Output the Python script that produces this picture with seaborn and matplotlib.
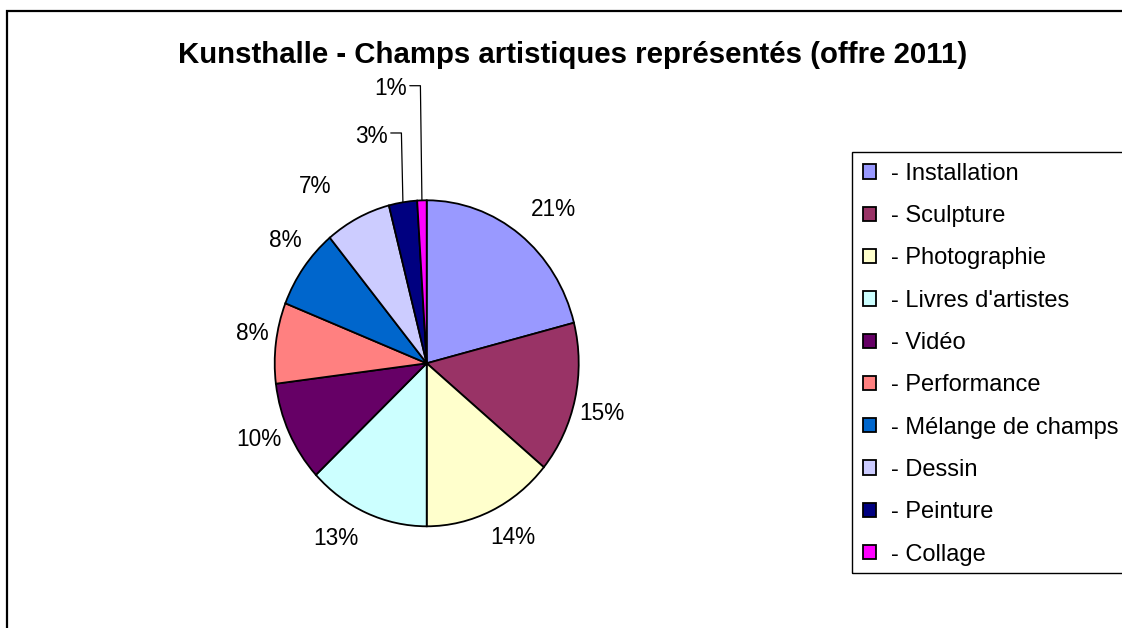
import numpy as np
import matplotlib
matplotlib.use('Agg')
import matplotlib.pyplot as plt
import seaborn as sns
from matplotlib.patches import Rectangle

sns.set_style('white')
plt.rcParams['font.family'] = ['Liberation Sans', 'DejaVu Sans']
plt.rcParams['text.color'] = 'black'

# Data
categories = ['Installation', 'Sculpture', 'Photographie', "Livres d'artistes", 'Vidéo',
              'Performance', 'Mélange de champs', 'Dessin', 'Peinture', 'Collage']
shares = [21, 15, 14, 13, 10, 8, 8, 7, 3, 1]
colors = ['#9999FF', '#993366', '#FFFFCC', '#CCFFFF', '#660066',
          '#FF8080', '#0066CC', '#CCCCFF', '#000080', '#FF00FF']

# label layout (angle nudge in degrees, radial distance) for the big slices
label_nudge = [3.7, 2.4, -2.8, 5.6, 2.2, 1.8, 3.0, -7.0]
label_dist = [1.256, 1.19, 1.21, 1.23, 1.20, 1.16, 1.2, 1.31]
# small slices get leader lines; label height above centre
leader_height = [1.393, 1.683]

W, H = 1122, 628
fig = plt.figure(figsize=(W / 100, H / 100), dpi=100)

# pie lives in its own axes so it can be drawn slightly oval like the source
cx, cy, rx, ry = 426.7, 363.3, 152, 163
ax = fig.add_axes([(cx - rx) / W, (H - cy - ry) / H, 2 * rx / W, 2 * ry / H])
wedges, _ = ax.pie(shares, colors=colors, startangle=90, counterclock=False,
                   wedgeprops=dict(edgecolor='black', linewidth=1.3))
ax.set_aspect('auto')
ax.set_xlim(-1, 1)
ax.set_ylim(-1, 1)
ax.axis('off')

fs = 16.3
total = float(sum(shares))
cum = np.cumsum([0] + shares)
for i, v in enumerate(shares):
    mid = np.deg2rad((cum[i] + v / 2) / total * 360)
    txt = f'{v / total * 100:.0f}%'
    if i < len(label_nudge):
        a = mid + np.deg2rad(label_nudge[i])
        d = label_dist[i]
        ax.text(d * np.sin(a), d * np.cos(a), txt, ha='center', va='center',
                fontsize=fs, clip_on=False)
    else:
        k = i - len(label_nudge)
        ex, ey = np.sin(mid), np.cos(mid)
        ty = leader_height[k]
        corner_x = ex - 0.01
        ax.text(corner_x - 0.09, ty, txt, ha='right', va='center',
                fontsize=fs, clip_on=False)
        ax.plot([corner_x - 0.07, corner_x, ex], [ty + 0.02, ty + 0.02, ey],
                color='black', linewidth=0.9, clip_on=False)

fig.text(573 / W, 1 - 55 / H, 'Kunsthalle - Champs artistiques représentés (offre 2011)',
         ha='center', va='center', fontsize=21.2, fontweight='bold')

# chart area border (left and top edges visible)
fig.add_artist(Rectangle((7 / W, -0.1), 1.2, 1.1 - 11 / H, transform=fig.transFigure,
                         fill=False, edgecolor='black', linewidth=1.6))

# legend box runs off the right edge, as in the source
fig.add_artist(Rectangle((852 / W, 1 - 572.5 / H), 0.3, 421 / H, transform=fig.transFigure,
                         fill=False, edgecolor='black', linewidth=1.0))
leg = fig.legend(wedges, ['- ' + c for c in categories], loc='upper left',
                 bbox_to_anchor=(852 / W, 1 - 151.5 / H), borderaxespad=0, fontsize=17,
                 frameon=False, handlelength=0.555, handleheight=0.555, handletextpad=0.6,
                 labelspacing=0.86, borderpad=0.48)

fig.savefig('out.png', dpi=100)
